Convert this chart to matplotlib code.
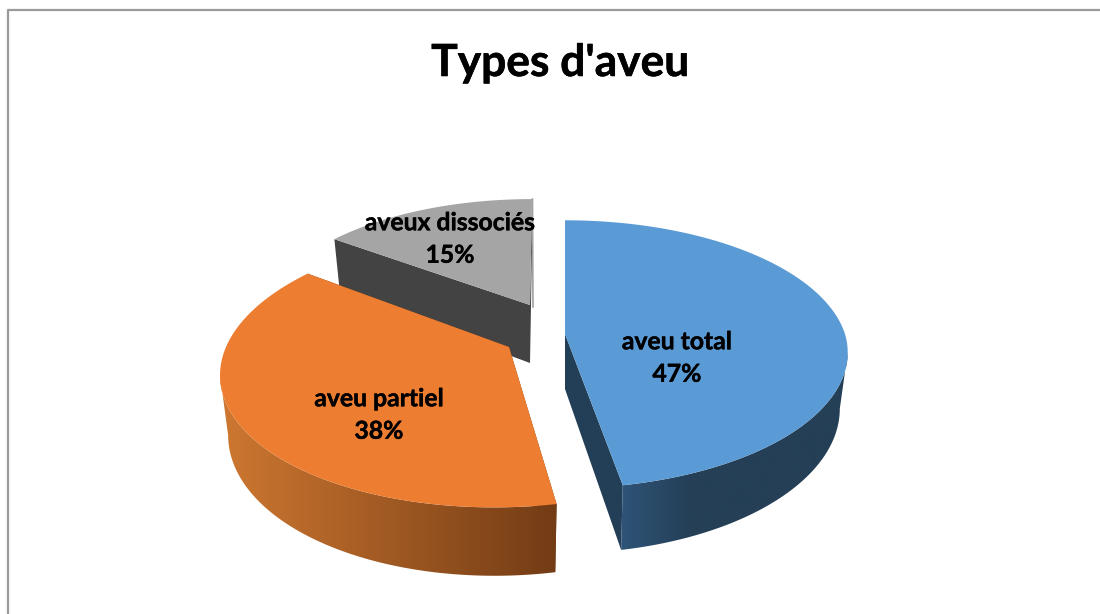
import numpy as np
import matplotlib
matplotlib.use("Agg")
import matplotlib.pyplot as plt
import matplotlib.patheffects as pe
from matplotlib.colors import to_rgb
from matplotlib.patches import Polygon

plt.rcParams['font.family'] = ['Lato', 'DejaVu Sans']

# data
categories = ["aveu total", "aveu partiel", "aveux dissociés"]
values = [47, 38, 15]
title = "Types d'aveu"

# look of each slice
top_colors = ["#5B9BD5", "#ED7D31", "#A5A5A5"]
wall_left = ["#2F5478", "#CC7630", "#8A8A8A"]
wall_right = ["#243F56", "#733C15", "#6E6E6E"]
cut_colors = ["#233F57", "#733C15", "#434343"]
apex_x = [565, 509, 530]
apex_y = [334, 347, 305]
radius = [280, 283, 265]
squash = [131, 136, 122]
skew_front = [-4, -15, 0]
skew_back = [0, -15, -2]
depth = [55, 58, 58]
label_x = [677, 379, 450]
label_y = [358, 415, 239]

W, H = 1100, 614
K = 0.152
SHRINK = 0.972

fig = plt.figure(figsize=(W / 100, H / 100), dpi=100)
ax = fig.add_axes([0, 0, 1, 1])
ax.axis("off")


def rim(theta, i, lower=False):
    # clockwise from the top of the pie, seen with some perspective
    u = np.sin(theta)
    v = -np.cos(theta)
    s = 1 / (1 - K * v)
    x = radius[i] * u * s + np.where(v > 0, skew_front[i], skew_back[i]) * v
    y = squash[i] * v * s
    if lower:
        return apex_x[i] + x * SHRINK, apex_y[i] + y + depth[i] * s
    return apex_x[i] + x, apex_y[i] + y


fractions = np.array(values) / sum(values)
stops = np.concatenate([[0], np.cumsum(fractions)]) * 2 * np.pi

# frame
ax.plot([7.5, 7.5, W], [H, 9.5, 9.5], color="#9A9A9A", lw=1.6, solid_capstyle="butt")

ax.text(560, 63, title, ha="center", va="center", fontsize=31.9, fontweight="bold", color="black",
        path_effects=[pe.withStroke(linewidth=0.4, foreground="black")])

for i in [2, 1, 0]:
    z = 2 - i
    th = np.linspace(stops[i], stops[i + 1], 400)
    xt, yt = rim(th, i)
    xb, yb = rim(th, i, lower=True)
    ax_, ay_ = apex_x[i], apex_y[i]
    by_ = ay_ + depth[i]

    # the two cut faces
    for j in [0, -1]:
        ax.fill([ax_, xt[j], xb[j], ax_], [ay_, yt[j], yb[j], by_],
                color=cut_colors[i], lw=0, zorder=1 + z)

    # outer wall, shaded along x (the grey one faces away)
    if i != 2:
        if i == 0:
            # blue only goes dark over its first stretch
            k = np.argmax(xt)
            wx, wy = np.r_[xt[k:], xb[k:][::-1]], np.r_[yt[k:], yb[k:][::-1]]
            lo, hi = xb[-1], xb[-1] + 70
        else:
            k = np.argmin(xt)
            wx, wy = np.r_[xt[:k + 1], xb[:k + 1][::-1]], np.r_[yt[:k + 1], yb[:k + 1][::-1]]
            lo, hi = xb.min(), xb.max()
        xs = np.arange(0, W + 1)
        f = np.clip((xs - lo) / (hi - lo), 0, 1)[None, :, None]
        c0, c1 = np.array(to_rgb(wall_left[i])), np.array(to_rgb(wall_right[i]))
        grad = c0 + (c1 - c0) * f
        im = ax.imshow(grad, extent=[0, W, H, 0], aspect="auto", zorder=1.5 + z, interpolation="bilinear")
        wall = Polygon(np.c_[wx, wy], closed=True, transform=ax.transData, fc="none", ec="none")
        ax.add_patch(wall)
        im.set_clip_path(wall)
    else:
        ax.plot(xt[-2:] + 1, [yt[-1], ay_ + 2], color="#A0A0A0", lw=1.2, zorder=1.5 + z)

    # top face
    ax.fill(np.r_[ax_, xt], np.r_[ay_, yt], color=top_colors[i], lw=0, zorder=2 + z)

for i in range(3):
    ax.text(label_x[i], label_y[i], f"{categories[i]}\n{values[i]}%", ha="center", va="center",
            fontsize=17.8, fontweight="bold", color="black", linespacing=1.5, zorder=10,
            path_effects=[pe.withStroke(linewidth=0.3, foreground="black")])

ax.set_xlim(0, W)
ax.set_ylim(H, 0)
fig.savefig("out.png", dpi=100, facecolor="white")
